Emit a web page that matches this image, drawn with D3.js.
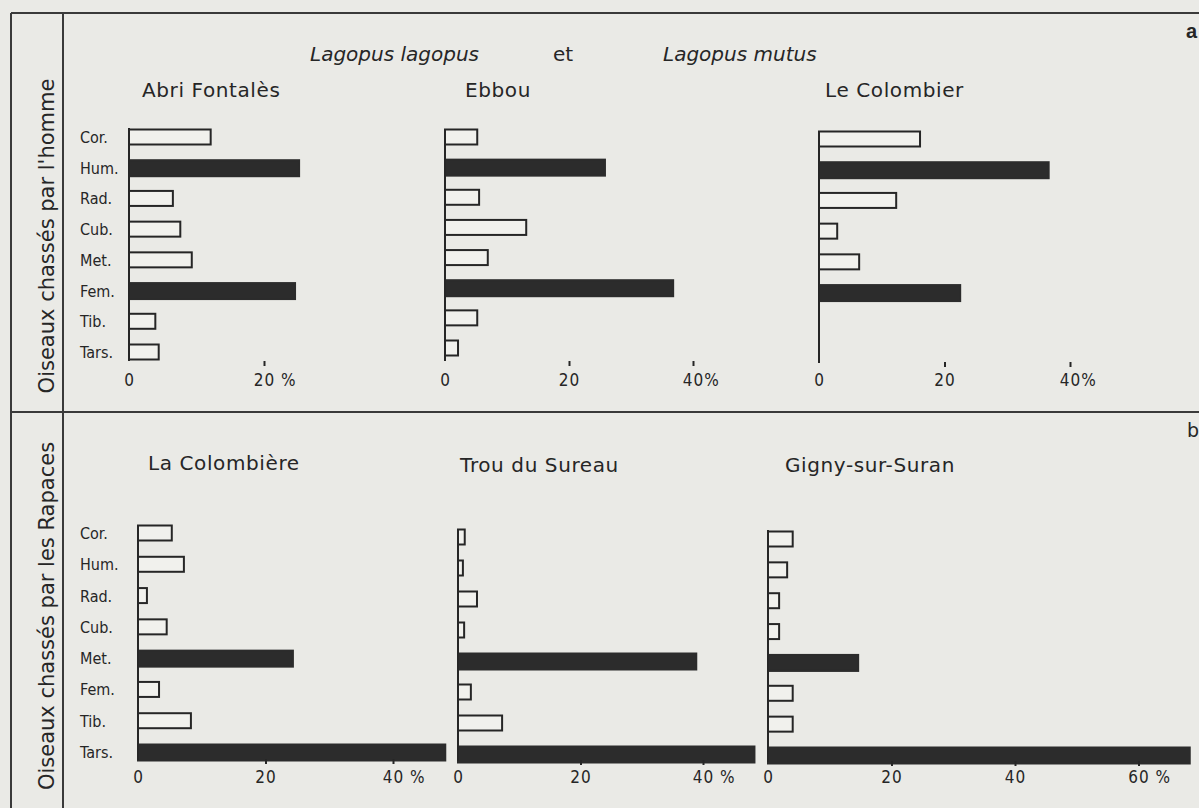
<!DOCTYPE html>
<html><head><meta charset="utf-8">
<script src="https://cdn.jsdelivr.net/npm/d3@7"></script>
<style>
html,body{margin:0;padding:0;background:#eaeae6;}
svg{display:block;}
</style></head>
<body>
<svg id="chart" width="1199" height="808"></svg>
<script>
// ---- data ----
const bones = ["Cor.", "Hum.", "Rad.", "Cub.", "Met.", "Fem.", "Tib.", "Tars."];
const sites = ["Abri Fontalès", "Ebbou", "Le Colombier", "La Colombière", "Trou du Sureau", "Gigny-sur-Suran"];
const abriFontales = [12.1, 25.2, 6.5, 7.6, 9.3, 24.6, 3.9, 4.4];
const ebbou        = [5.2, 25.8, 5.5, 13.1, 6.9, 36.8, 5.2, 2.1];
const leColombier  = [16.1, 36.6, 12.3, 2.9, 6.4, 22.5, 0, 0];
const laColombiere = [5.3, 7.2, 1.4, 4.5, 24.3, 3.3, 8.3, 48.2];
const trouDuSureau = [1.1, 0.8, 3.1, 1.0, 38.9, 2.1, 7.2, 48.4];
const gignySurSuran = [4.0, 3.1, 1.8, 1.8, 14.6, 4.0, 4.0, 68.3];
const darkTop = ["Hum.", "Fem."];
const darkBottom = ["Met.", "Tars."];
const ticksTop1 = [0, 20];
const ticksTop = [0, 20, 40];
const ticksBottom = [0, 20, 40];
const ticksGigny = [0, 20, 40, 60];
const rowTitles = ["Oiseaux chassés par l'homme", "Oiseaux chassés par les Rapaces"];
const speciesA = "Lagopus lagopus", speciesLink = "et", speciesB = "Lagopus mutus";

// ---- layout ----
const svg = d3.select("#chart");
const ink = "#262626";
const condensed = "'DejaVu Sans Condensed','DejaVu Sans',sans-serif";
const sans = "'DejaVu Sans',sans-serif";

// frame
const frame = svg.append("g").attr("stroke", "#3a3a3a").attr("stroke-width", 2);
frame.append("line").attr("x1", 11).attr("x2", 1199).attr("y1", 13).attr("y2", 13);
frame.append("line").attr("x1", 11).attr("x2", 1199).attr("y1", 412).attr("y2", 412);
frame.append("line").attr("x1", 11).attr("x2", 11).attr("y1", 13).attr("y2", 808);
frame.append("line").attr("x1", 63).attr("x2", 63).attr("y1", 13).attr("y2", 808);

// row titles (vertical)
[[47, 236], [47, 616]].forEach((p, i) => {
  svg.append("text")
    .attr("transform", `translate(${p[0] + 7},${p[1]}) rotate(-90)`)
    .attr("text-anchor", "middle")
    .attr("font-family", sans).attr("font-size", 21)
    .attr("fill", ink)
    .text(rowTitles[i]);
});

// species header
svg.append("text").attr("x", 310).attr("y", 61).attr("font-family", sans)
  .attr("font-style", "italic").attr("font-size", 20).attr("fill", ink).text(speciesA);
svg.append("text").attr("x", 553).attr("y", 61).attr("font-family", sans)
  .attr("font-size", 20).attr("fill", ink).text(speciesLink);
svg.append("text").attr("x", 663).attr("y", 61).attr("font-family", sans)
  .attr("font-style", "italic").attr("font-size", 20).attr("fill", ink).text(speciesB);
svg.append("text").attr("x", 1186).attr("y", 38).attr("font-family", "'Liberation Sans',sans-serif")
  .attr("font-weight", "bold").attr("font-size", 20).attr("fill", ink).text("a");
svg.append("text").attr("x", 1187).attr("y", 437).attr("font-family", sans)
  .attr("font-size", 19).attr("fill", ink).text("b");

const panels = [
  {vals: abriFontales, dark: darkTop, ticks: ticksTop1, xr: [129, 264], dv: 20, yr: [137, 352], ax: [128, 361], tickY: 361, labY: 386, tx: 142, ty: 97, rowLabels: true, lx: 80},
  {vals: ebbou, dark: darkTop, ticks: ticksTop, xr: [445, 693], dv: 40, yr: [137, 348], ax: [129, 361], tickY: 361, labY: 386, tx: 465, ty: 97},
  {vals: leColombier, dark: darkTop, ticks: ticksTop, xr: [819, 1070], dv: 40, yr: [139, 354], ax: [133, 363], tickY: 362, labY: 386, tx: 825, ty: 97},
  {vals: laColombiere, dark: darkBottom, ticks: ticksBottom, xr: [138, 393], dv: 40, yr: [533, 752], ax: [527, 760], tickY: 759, labY: 783, tx: 148, ty: 470, rowLabels: true, lx: 80},
  {vals: trouDuSureau, dark: darkBottom, ticks: ticksBottom, xr: [458, 703], dv: 40, yr: [537, 754], ax: [530, 761], tickY: 760, labY: 783, tx: 460, ty: 472},
  {vals: gignySurSuran, dark: darkBottom, ticks: ticksGigny, xr: [768, 1015], dv: 40, yr: [539, 755], ax: [530, 762], tickY: 761, labY: 783, tx: 785, ty: 472}
];

panels.forEach((p, pi) => {
  const g = svg.append("g");
  const x = d3.scaleLinear().domain([0, p.dv]).range(p.xr);
  const y = d3.scalePoint().domain(bones).range(p.yr);
  const bh = 15;

  // title
  g.append("text").attr("x", p.tx).attr("y", p.ty).attr("font-family", sans)
    .attr("font-size", 20).attr("letter-spacing", 0.6).attr("fill", ink).text(sites[pi]);

  // bars
  const rows = bones.map((b, i) => ({bone: b, v: p.vals[i]})).filter(d => d.v > 0);
  g.selectAll("rect.bar").data(rows).join("rect")
    .attr("class", "bar")
    .attr("x", x(0))
    .attr("y", d => y(d.bone) - bh / 2)
    .attr("width", d => x(d.v) - x(0))
    .attr("height", d => p.dark.includes(d.bone) ? bh + 1 : bh)
    .attr("fill", d => p.dark.includes(d.bone) ? "#2c2c2c" : "#f1f1ed")
    .attr("stroke", d => p.dark.includes(d.bone) ? "#2c2c2c" : ink)
    .attr("stroke-width", 2);

  // vertical axis line
  g.append("line").attr("x1", x(0)).attr("x2", x(0)).attr("y1", p.ax[0]).attr("y2", p.ax[1])
    .attr("stroke", ink).attr("stroke-width", 2);

  // row labels
  if (p.rowLabels) {
    g.selectAll("text.row").data(bones).join("text")
      .attr("class", "row")
      .attr("x", p.lx).attr("y", d => y(d) + 6)
      .attr("font-family", condensed).attr("font-size", 16).attr("fill", ink)
      .text(d => d);
  }

  // x axis ticks
  const axis = d3.axisBottom(x).tickValues(p.ticks).tickSize(5).tickFormat(d3.format("d"));
  const ag = g.append("g").attr("transform", `translate(0,${p.tickY})`).call(axis);
  ag.select(".domain").remove();
  ag.selectAll(".tick line").attr("stroke", ink).attr("stroke-width", 2);
  ag.selectAll(".tick text")
    .attr("fill", ink).attr("font-family", condensed).attr("font-size", 17)
    .attr("letter-spacing", 1)
    .attr("y", p.labY - p.tickY).attr("dy", 0)
    .each(function(d, i, nodes) {
      if (i === nodes.length - 1) {
        const t = d3.select(this);
        const w = this.getComputedTextLength();
        t.attr("text-anchor", "start").attr("x", -w / 2);
        t.append("tspan").text(pi === 1 || pi === 2 ? "%" : " %");
      }
    });
  ag.selectAll(".tick").filter(d => d === 0).select("line").remove();
});
</script>
</body></html>
